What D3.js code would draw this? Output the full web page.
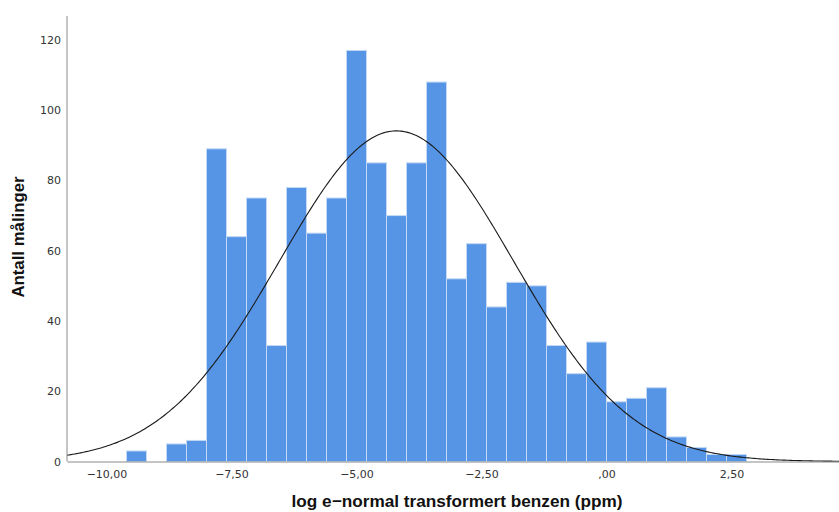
<!DOCTYPE html>
<html>
<head>
<meta charset="utf-8">
<script src="https://cdn.jsdelivr.net/npm/d3@7"></script>
<style>
  body { margin: 0; background: #fff; }
  svg { display: block; font-family: "DejaVu Sans", sans-serif; }
</style>
</head>
<body>
<svg width="839" height="512"></svg>
<script>
// bin lower edges (width 0.4) and counts
var binStart = -9.6;
var binWidth = 0.4;
var counts = [3, 0, 5, 6, 89, 64, 75, 33, 78, 65, 75, 117, 85, 70, 85, 108,
  52, 62, 44, 51, 50, 33, 25, 34, 17, 18, 21, 7, 4, 2, 2];

// fitted normal curve (mean / sd)
var curveMean = -4.2;
var curveSd = 2.34;

var xTicks = [-10, -7.5, -5, -2.5, 0, 2.5];
var yTicks = [0, 20, 40, 60, 80, 100, 120];

var svg = d3.select("svg"),
  padL = 67, padR = 839, padT = 16, padB = 461.5;

var x = d3.scaleLinear().domain([-10.79, 4.65]).range([padL, padR]);
var y = d3.scaleLinear().domain([0, 126.8]).range([padB, padT]);

var bins = counts.map(function(c, i) {
  var x0 = +(binStart + i * binWidth).toFixed(2);
  return { x0: x0, x1: +(x0 + binWidth).toFixed(2), n: c };
});

svg.append("g")
  .selectAll("rect")
  .data(bins.filter(function(d) { return d.n > 0; }))
  .enter().append("rect")
  .attr("x", function(d) { return x(d.x0); })
  .attr("y", function(d) { return y(d.n); })
  .attr("width", function(d) { return x(d.x1) - x(d.x0); })
  .attr("height", function(d) { return padB - y(d.n); })
  .attr("fill", "#5694e5")
  .attr("stroke", "#c4d9f5")
  .attr("stroke-width", 1);

// normal curve scaled to counts
var total = d3.sum(counts);
var curvePts = d3.range(0, 401).map(function(i) {
  var v = x.domain()[0] + (x.domain()[1] - x.domain()[0]) * i / 400;
  var z = (v - curveMean) / curveSd;
  return [v, total * binWidth / (curveSd * Math.sqrt(2 * Math.PI)) * Math.exp(-z * z / 2)];
});

svg.append("path")
  .datum(curvePts)
  .attr("fill", "none")
  .attr("stroke", "#1a1a1a")
  .attr("stroke-width", 1.1)
  .attr("d", d3.line()
    .x(function(d) { return x(d[0]); })
    .y(function(d) { return y(d[1]); }));

var fmt = function(v) {
  var s = d3.format(".2f")(Math.abs(v)).replace(".", ",");
  if (s.indexOf("0,") == 0) s = s.slice(1);
  return (v < 0 ? "\u2212" : "") + s;
};

var xAxis = svg.append("g")
  .attr("transform", "translate(0," + padB + ")")
  .call(d3.axisBottom(x).tickValues(xTicks).tickSize(0).tickPadding(9).tickFormat(fmt));
xAxis.select(".domain").attr("stroke", "#8a8a8a");
xAxis.selectAll("text").attr("font-size", 11).attr("fill", "#333")
  .attr("font-family", "DejaVu Sans, sans-serif");

var yAxis = svg.append("g")
  .attr("transform", "translate(" + padL + ",0)")
  .call(d3.axisLeft(y).tickValues(yTicks).tickSize(0).tickPadding(6).tickFormat(d3.format("d")));
yAxis.select(".domain").attr("stroke", "#8a8a8a").attr("d", "M0," + padB + "V" + padT);
yAxis.selectAll("text").attr("font-size", 11).attr("fill", "#333")
  .attr("font-family", "DejaVu Sans, sans-serif");

svg.append("text")
  .attr("x", 457)
  .attr("y", 507)
  .attr("text-anchor", "middle")
  .attr("font-family", "Liberation Sans, sans-serif")
  .attr("font-size", 17.2)
  .attr("font-weight", "bold")
  .attr("fill", "#111")
  .text("log e\u2212normal transformert benzen (ppm)");

svg.append("text")
  .attr("transform", "translate(24,237) rotate(-90)")
  .attr("text-anchor", "middle")
  .attr("font-family", "Liberation Sans, sans-serif")
  .attr("font-size", 16.8)
  .attr("font-weight", "bold")
  .attr("fill", "#111")
  .text("Antall målinger");
</script>
</body>
</html>
